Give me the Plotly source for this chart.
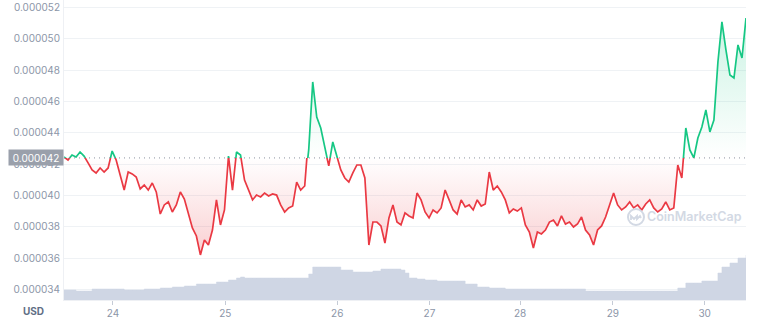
import plotly.graph_objects as go

# ---- data (price in units of 1e-6 USD, volume in arbitrary $M) ----
PRICE_E6 = [
    42.46, 42.27, 42.59, 42.46, 42.78, 42.52, 42.08, 41.63, 41.44, 41.76,
    41.50, 41.76, 42.84, 42.27, 41.31, 40.35, 41.50, 41.38, 41.18, 40.42,
    40.67, 40.35, 40.80, 40.23, 38.82, 39.40, 39.59, 38.95, 39.40, 40.23,
    39.78, 38.76, 37.93, 37.42, 36.21, 37.16, 36.84, 37.80, 39.72, 38.12,
    39.08, 42.52, 40.35, 42.78, 42.59, 40.99, 40.35, 39.72, 40.03, 39.91,
    40.16, 39.97, 40.10, 40.03, 39.40, 38.95, 39.21, 39.33, 40.86, 40.35,
    40.61, 42.91, 47.25, 45.01, 44.31, 43.03, 41.89, 43.42, 42.46, 41.63,
    41.12, 40.86, 41.44, 41.95, 41.95, 41.12, 36.84, 38.31, 38.31, 38.06,
    36.97, 38.57, 39.40, 38.31, 38.12, 38.89, 38.70, 38.57, 40.16, 39.72,
    38.95, 38.57, 39.08, 38.89, 39.21, 40.35, 39.72, 39.08, 38.82, 39.72,
    39.27, 39.40, 39.08, 39.72, 39.33, 39.46, 41.50, 40.35, 40.61, 40.23,
    39.72, 38.89, 39.14, 39.01, 39.21, 38.12, 37.67, 36.65, 37.67, 37.55,
    37.80, 38.31, 38.44, 38.06, 38.70, 38.18, 38.31, 37.99, 38.18, 38.63,
    37.80, 37.48, 36.84, 37.80, 38.06, 38.63, 39.40, 40.16, 39.40, 39.08,
    39.27, 39.59, 39.21, 39.40, 39.08, 39.46, 39.72, 39.21, 38.95, 39.14,
    39.59, 39.08, 39.21, 41.95, 41.12, 44.31, 42.91, 42.40, 43.67, 44.37,
    45.46, 44.06, 44.82, 48.52, 51.08, 49.29, 47.69, 47.50, 49.61, 48.78,
    51.33,
]

VOLUME_M = [
    0.10, 0.10, 0.10, 0.09, 0.09, 0.09, 0.09, 0.11, 0.11, 0.11,
    0.11, 0.11, 0.11, 0.11, 0.11, 0.10, 0.10, 0.10, 0.10, 0.10,
    0.11, 0.11, 0.11, 0.11, 0.12, 0.12, 0.12, 0.13, 0.13, 0.13,
    0.14, 0.14, 0.14, 0.16, 0.16, 0.16, 0.16, 0.16, 0.18, 0.18,
    0.18, 0.20, 0.20, 0.22, 0.23, 0.22, 0.22, 0.22, 0.22, 0.22,
    0.22, 0.22, 0.22, 0.22, 0.22, 0.22, 0.22, 0.22, 0.22, 0.22,
    0.22, 0.26, 0.33, 0.33, 0.33, 0.33, 0.33, 0.33, 0.33, 0.30,
    0.30, 0.30, 0.28, 0.28, 0.28, 0.28, 0.28, 0.29, 0.29, 0.31,
    0.31, 0.31, 0.31, 0.31, 0.30, 0.27, 0.22, 0.22, 0.21, 0.21,
    0.20, 0.20, 0.20, 0.19, 0.19, 0.19, 0.19, 0.19, 0.19, 0.19,
    0.16, 0.16, 0.16, 0.13, 0.13, 0.13, 0.12, 0.12, 0.12, 0.12,
    0.11, 0.11, 0.11, 0.11, 0.11, 0.11, 0.11, 0.11, 0.11, 0.11,
    0.11, 0.11, 0.11, 0.11, 0.11, 0.11, 0.11, 0.11, 0.11, 0.11,
    0.09, 0.09, 0.09, 0.09, 0.09, 0.09, 0.09, 0.09, 0.09, 0.09,
    0.09, 0.09, 0.09, 0.09, 0.09, 0.09, 0.09, 0.09, 0.09, 0.09,
    0.09, 0.09, 0.09, 0.12, 0.12, 0.17, 0.17, 0.17, 0.17, 0.19,
    0.19, 0.19, 0.19, 0.27, 0.33, 0.33, 0.37, 0.37, 0.42, 0.42,
    0.45,
]

BASE_E6 = 42.40
Y_TICKS_E6 = [34, 36, 38, 40, 42, 44, 46, 48, 50, 52]
TICK_POS = [12.2, 40.2, 68.1, 91.1, 113.7, 136.8, 159.7]
TICK_LABELS = ["24", "25", "26", "27", "28", "29", "30"]

# ---- derived ----
price = [v * 1e-6 for v in PRICE_E6]
base = BASE_E6 * 1e-6
n = len(price)
x = list(range(n))
base_line = [base] * n

Y_MIN = 33.333e-6
Y_MAX = 52.479e-6
d = (base - Y_MIN) / (Y_MAX - Y_MIN)

GREEN = "#16c784"
RED = "#ea3943"
LABEL = "#8c96a8"

fig = go.Figure()

# main subplot (grid + labels)
fig.add_trace(go.Scatter(x=x, y=base_line, yaxis="y", mode="lines",
                         line=dict(width=0), hoverinfo="skip", showlegend=False))
# volume
fig.add_trace(go.Scatter(x=x, y=VOLUME_M, yaxis="y2", mode="lines",
                         line=dict(width=0.5, shape="hv", color="#cfd6e4"),
                         fill="tozeroy", fillcolor="#cfd6e4",
                         hoverinfo="skip", showlegend=False))
# green part (above baseline)
fig.add_trace(go.Scatter(x=x, y=base_line, yaxis="y3", mode="lines",
                         line=dict(width=0), hoverinfo="skip", showlegend=False))
fig.add_trace(go.Scatter(x=x, y=price, yaxis="y3", mode="lines",
                         line=dict(color=GREEN, width=1.7), fill="tonexty",
                         fillgradient=dict(type="vertical",
                                           colorscale=[[0, "rgba(22,199,132,0.0)"],
                                                       [1, "rgba(22,199,132,0.22)"]],
                                           start=base, stop=max(price)),
                         hoverinfo="skip", showlegend=False))
# red part (below baseline)
fig.add_trace(go.Scatter(x=x, y=base_line, yaxis="y4", mode="lines",
                         line=dict(width=0), hoverinfo="skip", showlegend=False))
fig.add_trace(go.Scatter(x=x, y=price, yaxis="y4", mode="lines",
                         line=dict(color=RED, width=1.7), fill="tonexty",
                         fillgradient=dict(type="vertical",
                                           colorscale=[[0, "rgba(234,57,67,0.24)"],
                                                       [1, "rgba(234,57,67,0.0)"]],
                                           start=min(price), stop=base),
                         hoverinfo="skip", showlegend=False))

font_family = "Inter, Roboto, sans-serif"

fig.update_layout(
    width=759, height=322,
    margin=dict(l=64, r=13, t=0, b=22),
    paper_bgcolor="white", plot_bgcolor="rgba(0,0,0,0)",
    showlegend=False, hovermode=False,
    font=dict(family=font_family, size=10, color=LABEL),
    xaxis=dict(range=[0, n - 1], tickvals=TICK_POS, ticktext=TICK_LABELS,
               ticks="outside", ticklen=4, tickcolor="#c5cbd6",
               showgrid=False, zeroline=False, showline=True, linecolor="#eef0f4",
               tickfont=dict(size=10, color=LABEL), anchor="y"),
    yaxis=dict(range=[Y_MIN, Y_MAX], tickvals=[v * 1e-6 for v in Y_TICKS_E6],
               tickformat=".6f", showgrid=True, gridcolor="#eff2f5", gridwidth=1,
               zeroline=False, showline=True, linecolor="#eef0f4",
               ticks="", ticklabelstandoff=1, domain=[0, 1],
               tickfont=dict(size=10, color=LABEL)),
    yaxis2=dict(overlaying="y", range=[0, 3.0], visible=False),
    yaxis3=dict(domain=[d, 1], range=[base, Y_MAX], visible=False, anchor="x"),
    yaxis4=dict(domain=[0, d], range=[Y_MIN, base], visible=False, anchor="x"),
)

# dotted baseline
fig.add_shape(type="line", xref="paper", x0=0, x1=1, yref="y", y0=base, y1=base,
              line=dict(color="#8b929e", width=1, dash="1px,4px"), layer="above")

# baseline label
fig.add_annotation(xref="paper", x=0, xanchor="right", yref="y", y=base,
                   yanchor="middle",
                   text=f"{base:.6f}", showarrow=False, bgcolor="#9aa0ab",
                   font=dict(color="white", size=10, family=font_family),
                   width=50, height=11, borderpad=2)

# currency label
fig.add_annotation(xref="paper", x=-0.044, xanchor="center", yref="paper", y=-0.038,
                   yanchor="middle", text="<b>USD</b>", showarrow=False,
                   font=dict(color="#616e85", size=10, family=font_family))

# watermark
WM = "#d3d9e4"
fig.add_annotation(xref="paper", x=0.9238, xanchor="center", yref="paper", y=0.2767,
                   yanchor="middle", text="CoinMarketCap", showarrow=False,
                   font=dict(color=WM, size=12.5, family=font_family, weight=600))
fig.add_shape(type="circle", xref="paper", xsizemode="pixel", xanchor=0.8387,
              x0=-8, x1=8, yref="paper", ysizemode="pixel", yanchor=0.2767,
              y0=-8, y1=8, line=dict(color=WM, width=2), layer="above")
fig.add_shape(type="path", xref="paper", xsizemode="pixel", xanchor=0.8387,
              yref="paper", ysizemode="pixel", yanchor=0.2767,
              path="M -5,-3 L -5,1 L -2,-2 L 1,1 L 1,-2 L 4,1 L 5,-1",
              line=dict(color=WM, width=1.8), layer="above")

fig.write_html("out.html")
